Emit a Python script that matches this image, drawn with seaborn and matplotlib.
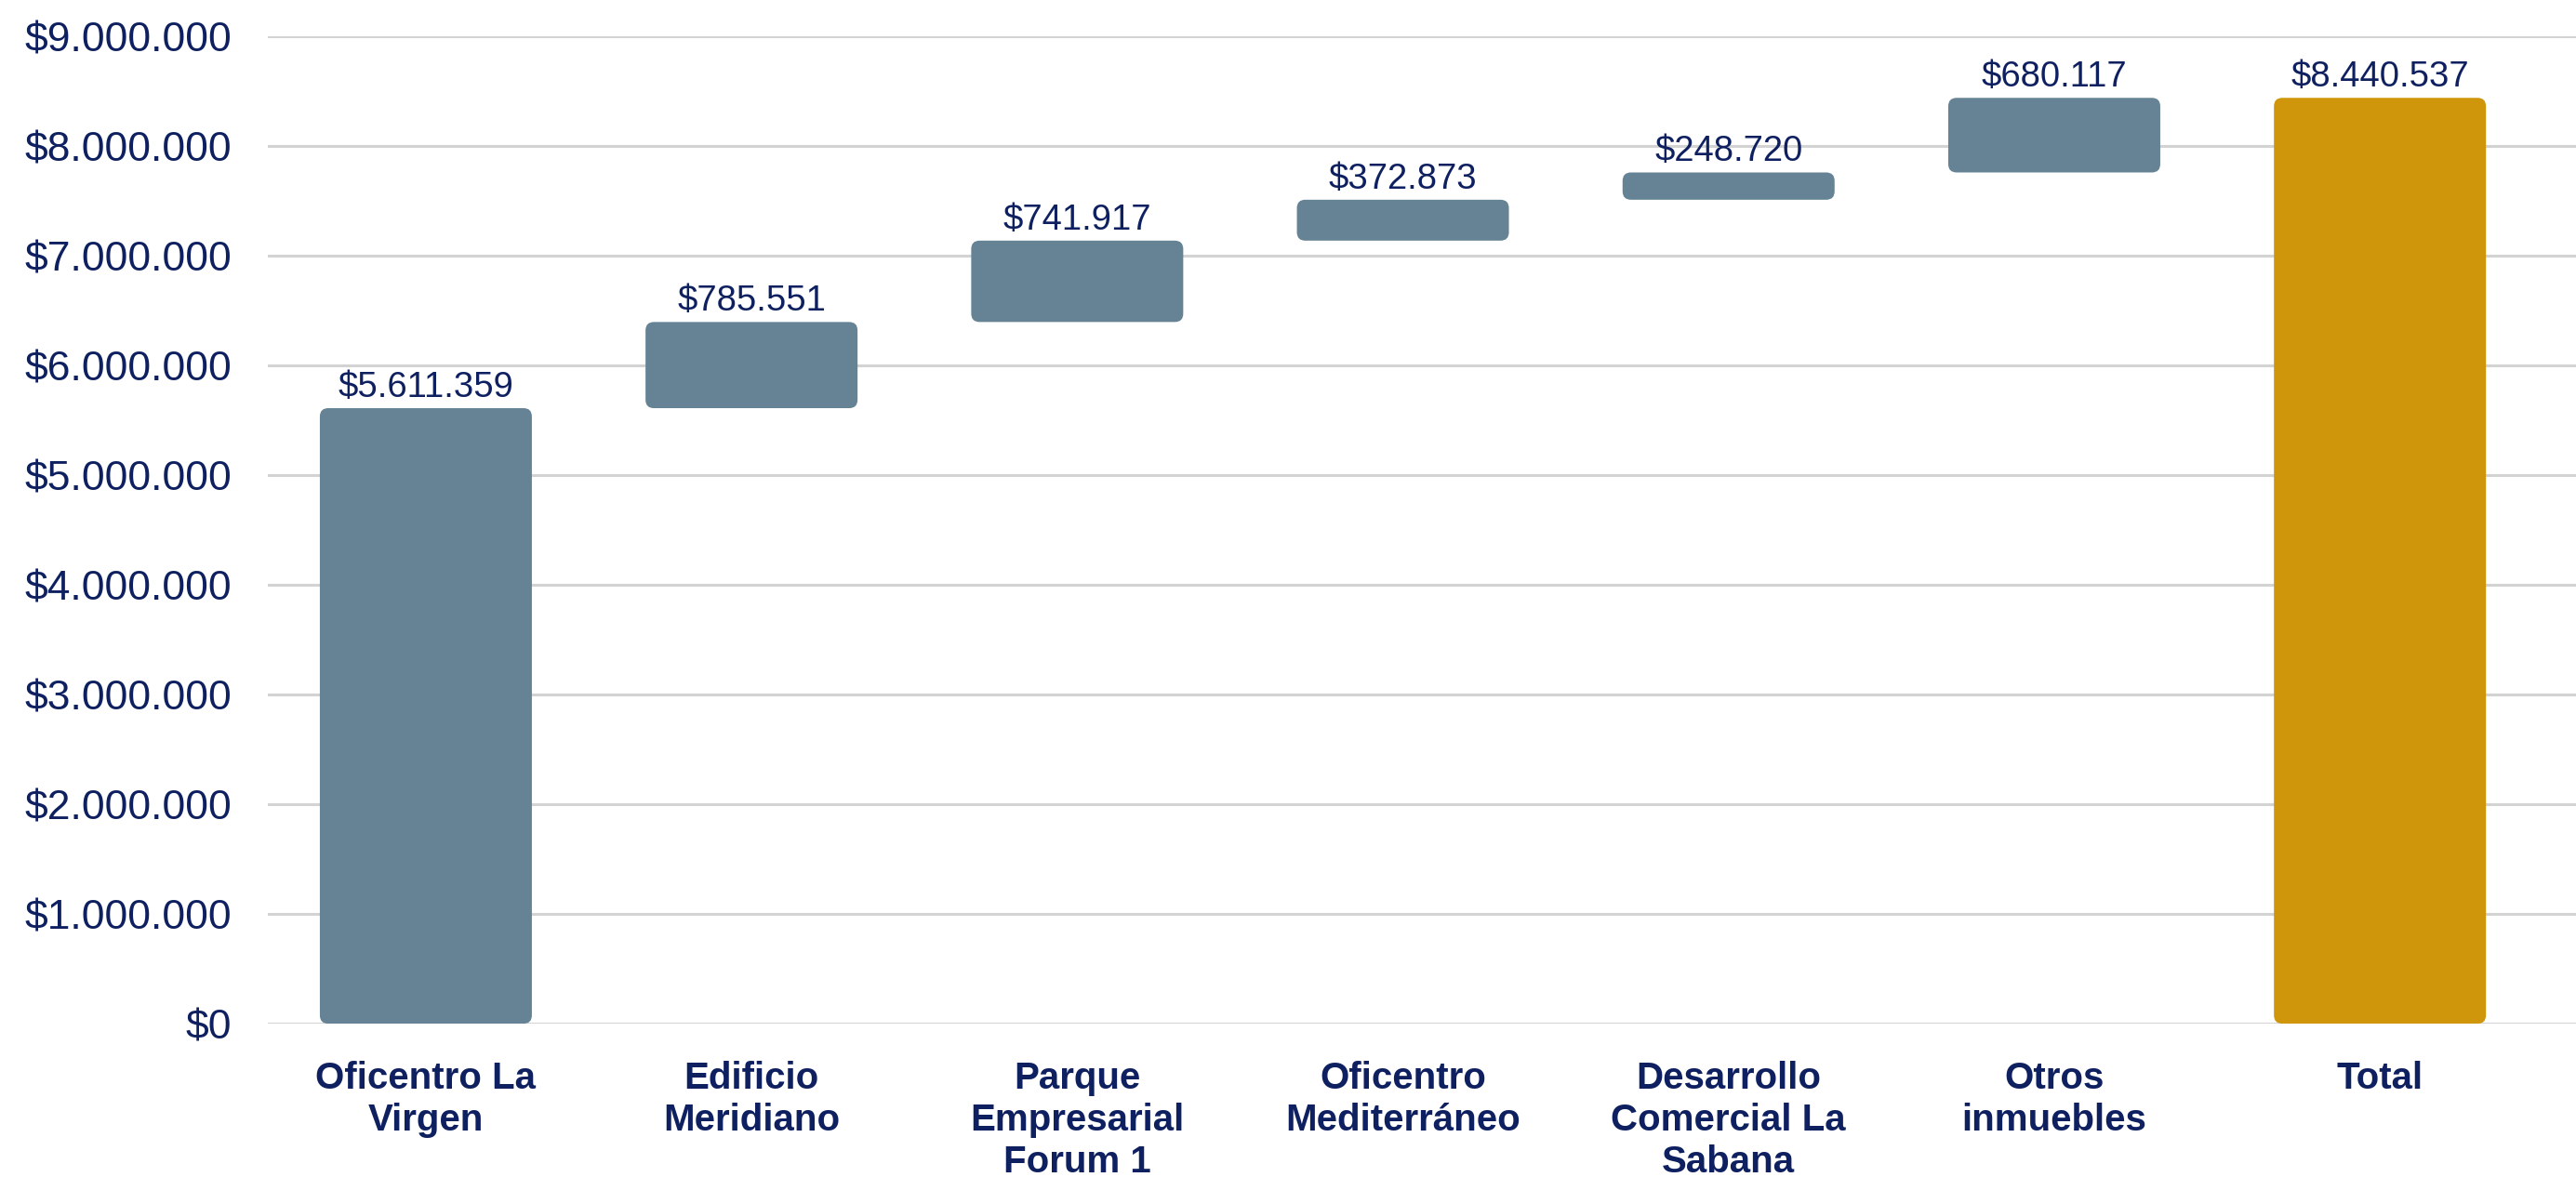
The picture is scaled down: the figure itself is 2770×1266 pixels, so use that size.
import seaborn as sns
import matplotlib.pyplot as plt
from matplotlib.patches import FancyBboxPatch
from matplotlib.ticker import FuncFormatter

categorias = ['Oficentro La\nVirgen', 'Edificio\nMeridiano', 'Parque\nEmpresarial\nForum 1',
              'Oficentro\nMediterráneo', 'Desarrollo\nComercial La\nSabana', 'Otros\ninmuebles', 'Total']
valores = [5611359, 785551, 741917, 372873, 248720, 680117, 8440537]
es_total = [False, False, False, False, False, False, True]

COLOR_BAR = '#658394'
COLOR_TOTAL = '#CF960B'
COLOR_TEXT = '#0E2060'


def fmt_pesos(v):
    return '$' + f'{v:,.0f}'.replace(',', '.')


def main():
    # bases de la cascada
    bases = []
    acum = 0
    for v, t in zip(valores, es_total):
        if t:
            bases.append(0)
        else:
            bases.append(acum)
            acum += v
    colores = [COLOR_TOTAL if t else COLOR_BAR for t in es_total]

    sns.set_theme(style='white')
    plt.rcParams['font.family'] = ['Liberation Sans', 'DejaVu Sans']

    W, H = 27.7, 12.66
    fig = plt.figure(figsize=(W, H), dpi=100)
    ax = fig.add_axes([0.104, 0.1303, 0.896, 0.8387])

    sns.barplot(x=categorias, y=valores, hue=categorias, palette=colores,
                legend=False, width=0.651, ax=ax)

    xlim = (-0.485, 6.602)
    ylim = (0, 9000000)
    ax.set_xlim(*xlim)
    ax.set_ylim(*ylim)

    # esquinas redondeadas y desplazamiento vertical de la cascada
    pos = ax.get_position()
    px_x = (xlim[1] - xlim[0]) / (pos.width * W * 100)
    px_y = (ylim[1] - ylim[0]) / (pos.height * H * 100)
    aspecto = px_y / px_x
    radio = 9 * px_x

    barras = sorted(ax.patches, key=lambda p: p.get_x())
    for i, p in enumerate(barras):
        x, w = p.get_x(), p.get_width()
        p.remove()
        caja = FancyBboxPatch((x, bases[i]), w, valores[i],
                              boxstyle=f'round,pad=0,rounding_size={radio}',
                              mutation_aspect=aspecto, facecolor=colores[i],
                              edgecolor='none', zorder=3)
        ax.add_patch(caja)
        ax.annotate(fmt_pesos(valores[i]), (x + w / 2, bases[i] + valores[i]),
                    xytext=(0, 3), textcoords='offset points', ha='center',
                    va='bottom', fontsize=27.5, color=COLOR_TEXT, zorder=4)

    ax.set_yticks(range(0, 9000001, 1000000))
    ax.yaxis.set_major_formatter(FuncFormatter(lambda v, _: fmt_pesos(v)))
    ax.grid(axis='y', color='#D3D3D3', linewidth=2.2, zorder=0)
    ax.set_axisbelow(True)
    for s in ax.spines.values():
        s.set_visible(False)

    ax.tick_params(axis='y', labelsize=32, labelcolor=COLOR_TEXT, pad=28, length=0)
    ax.tick_params(axis='x', labelsize=29, labelcolor=COLOR_TEXT, pad=29, length=0)
    for lab in ax.get_xticklabels():
        lab.set_fontweight('bold')
        lab.set_linespacing(1.22)
        lab.set_va('top')

    ax.set_xlabel('')
    ax.set_ylabel('')

    plt.savefig('out.png', dpi=100)


if __name__ == '__main__':
    main()
